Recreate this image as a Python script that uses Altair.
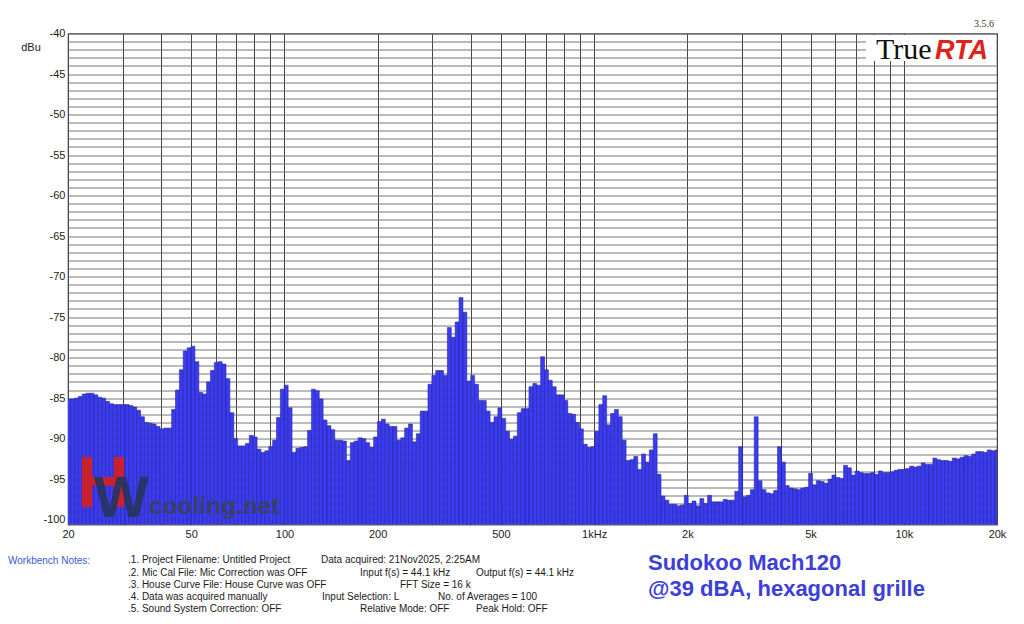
import altair as alt
import pandas as pd

# ---- 1/24-octave RTA levels (dBu), lowest band (~20 Hz) first, last band centred on 20 kHz
lv_20_63 = [-85.1, -85.1, -85.0, -84.8, -84.5, -84.4, -84.4, -84.6, -84.9, -85.0,
            -85.4, -85.7, -85.8, -85.8, -85.8, -85.8, -85.9, -86.1, -86.5, -87.3,
            -88.0, -88.1, -88.2, -88.5, -88.8, -88.7, -88.7, -86.4, -84.0, -81.5,
            -79.2, -78.8, -78.6, -80.5, -84.3, -84.5, -83.0, -81.6, -80.6, -80.5]
lv_63_200 = [-80.8, -82.6, -86.8, -90.0, -90.9, -90.9, -90.6, -89.6, -89.8, -91.3,
             -91.7, -91.5, -91.0, -90.2, -87.4, -83.9, -83.4, -86.2, -91.7, -91.2,
             -91.1, -91.0, -89.0, -83.9, -84.1, -85.1, -87.7, -88.4, -88.9, -90.2,
             -90.2, -90.3, -92.7, -90.5, -90.3, -89.9, -90.0, -90.5, -91.1, -89.8]
lv_200_630 = [-87.9, -87.6, -88.2, -88.5, -88.5, -90.2, -89.9, -88.7, -88.2, -90.4,
              -89.4, -86.6, -86.6, -83.3, -82.2, -81.6, -81.6, -82.2, -76.3, -77.5,
              -75.6, -72.6, -74.4, -82.9, -82.2, -83.3, -85.3, -85.3, -86.6, -88.0,
              -87.3, -86.2, -87.5, -89.1, -90.1, -89.7, -86.8, -86.3, -86.3, -83.6]
lv_630_2k = [-83.2, -83.4, -79.9, -81.5, -82.8, -83.6, -84.6, -84.6, -85.3, -86.9,
             -87.0, -88.0, -88.8, -90.7, -91.1, -91.0, -89.1, -85.8, -84.7, -88.3,
             -86.9, -86.4, -87.3, -90.2, -92.7, -92.6, -92.2, -93.8, -91.9, -92.9,
             -91.4, -89.4, -94.4, -97.1, -97.6, -98.1, -98.1, -98.3, -98.2, -97.0]
lv_2k_6k = [-98.0, -97.7, -98.3, -97.4, -98.0, -97.0, -97.8, -97.8, -97.8, -97.5,
            -97.6, -97.6, -96.5, -91.0, -97.2, -97.0, -96.3, -87.3, -95.2, -96.3,
            -96.7, -96.8, -96.4, -91.0, -92.9, -95.8, -96.1, -96.2, -96.3, -96.1,
            -96.0, -94.3, -95.7, -95.2, -95.3, -95.5, -95.0, -94.5, -94.8, -94.9]
lv_6k_20k = [-93.3, -93.6, -94.5, -94.0, -94.2, -94.3, -94.3, -94.2, -94.4, -94.0,
             -94.2, -94.2, -94.1, -93.9, -93.8, -93.8, -93.7, -93.4, -93.5, -93.4,
             -93.0, -93.2, -93.2, -92.4, -92.6, -92.7, -92.7, -92.8, -92.4, -92.5,
             -92.3, -92.1, -92.2, -91.9, -91.6, -91.6, -91.7, -91.4, -91.5, -91.4]

levels = lv_20_63 + lv_63_200 + lv_200_630 + lv_630_2k + lv_2k_6k + lv_6k_20k

x_grid = [20, 30, 40, 50, 60, 70, 80, 90, 100, 200, 300, 400, 500, 600, 700, 800, 900,
          1000, 2000, 3000, 4000, 5000, 6000, 7000, 8000, 9000, 10000, 20000]
x_tick_text = {20: "20", 50: "50", 100: "100", 200: "200", 500: "500",
               1000: "1kHz", 2000: "2k", 5000: "5k", 10000: "10k", 20000: "20k"}
y_grid = list(range(-100, -39))

notes_col1 = [".1. Project Filename: Untitled Project",
              ".2. Mic Cal File: Mic Correction was OFF",
              ".3. House Curve File: House Curve was OFF",
              ".4. Data was acquired manually",
              ".5. Sound System Correction: OFF"]
notes_col2 = [("Data acquired: 21Nov2025, 2:25AM", 321, 0),
              ("Input f(s) = 44.1 kHz", 360, 1),
              ("Output f(s) = 44.1 kHz", 476, 1),
              ("FFT Size = 16 k", 400, 2),
              ("Input Selection: L", 322, 3),
              ("No. of Averages = 100", 438, 3),
              ("Relative Mode:  OFF", 360, 4),
              ("Peak Hold: OFF", 476, 4)]

# ---- band table (1/24-octave bands counted down from 20 kHz)
n = len(levels)
rows = []
for j, v in enumerate(levels):
    fc = 20000.0 * 2 ** ((j - (n - 1)) / 24)
    rows.append({"lo": fc * 2 ** (-1 / 48), "hi": fc * 2 ** (1 / 48), "db": v})
df = pd.DataFrame(rows)

W, H = 929, 491
Y_MIN = -100.6
OX, OY = 68, 33.5          # image position of the plot origin
SANS = "Liberation Sans, Arial, sans-serif"
SERIF = "Liberation Serif, Times New Roman, serif"

label_expr = " : ".join(f"datum.value == {k} ? '{v}'" for k, v in x_tick_text.items()) + " : ''"

xscale = alt.Scale(type="log", domain=[20, 20000], nice=False)
yscale = alt.Scale(domain=[Y_MIN, -40], nice=False, zero=False)

bars = alt.Chart(df).mark_bar(
    clip=True, fill="#3b3bf0", stroke="#1f1f98", strokeWidth=0.55
).encode(
    x=alt.X("lo:Q", scale=xscale,
            axis=alt.Axis(values=x_grid, labelExpr=label_expr, title=None, ticks=False,
                          domain=False, grid=True, gridColor="#454545", gridWidth=1,
                          labelOverlap=False, labelFlush=False, labelPadding=4,
                          labelFont=SANS, labelFontSize=11, labelColor="#222")),
    x2="hi:Q",
    y=alt.Y("db:Q", scale=yscale,
            axis=alt.Axis(values=y_grid,
                          labelExpr="datum.value % 5 == 0 ? '' + datum.value : ''",
                          title=None, ticks=False, domain=False, grid=True,
                          gridColor="#666666", gridWidth=0.9, labelOverlap=False,
                          labelPadding=3, labelFont=SANS, labelFontSize=11,
                          labelColor="#222")),
    y2=alt.datum(Y_MIN),
)

one = pd.DataFrame({"k": [0]})


def txt(text, X, Y, **kw):
    """Annotation placed at image pixel (X, Y)."""
    style = dict(align="left", baseline="middle", font=SANS, fontSize=11, color="#222")
    style.update(kw)
    return alt.Chart(one).mark_text(**style).encode(
        x=alt.value(X - OX), y=alt.value(Y - OY), text=alt.value(text))


layers = [bars]

# white box behind the TrueRTA logo
layers.append(alt.Chart(one).mark_rect(fill="white").encode(
    x=alt.value(866 - OX), x2=alt.value(996 - OX),
    y=alt.value(35 - OY), y2=alt.value(61 - OY)))
layers.append(txt("True", 876, 59, baseline="alphabetic", font=SERIF, fontSize=30, color="#111"))
layers.append(txt("RTA", 935, 59, baseline="alphabetic", font=SANS, fontSize=27,
                  fontWeight="bold", fontStyle="italic", color="#e0221c"))
layers.append(txt("3.5.6", 984, 24, align="center", font=SERIF, fontSize=10, color="#333"))
layers.append(txt("dBu", 31, 48, align="center", fontSize=11))

# watermark
layers.append(txt("H", 77, 507, baseline="alphabetic", fontSize=72, fontWeight="bold",
                  color="#d42020", opacity=0.92))
layers.append(txt("W", 94, 517, baseline="alphabetic", fontSize=58, fontWeight="bold",
                  color="#27355f", opacity=0.92))
layers.append(txt("cooling.net", 149, 514, baseline="alphabetic", fontSize=24.5,
                  fontWeight="bold", color="#3a4262", opacity=0.95))

# workbench notes
line_y = [560, 572.5, 585, 597, 609]
NOTE = 10
layers.append(txt("Workbench Notes:", 8, 561, fontSize=NOTE, color="#3a5ad0"))
for i, t in enumerate(notes_col1):
    layers.append(txt(t, 128, line_y[i], fontSize=NOTE, color="#1a1a1a"))
for t, X, li in notes_col2:
    layers.append(txt(t, X, line_y[li], fontSize=NOTE, color="#1a1a1a"))

# title block
layers.append(txt("Sudokoo Mach120", 648, 563, fontSize=22, fontWeight="bold", color="#3d40d8"))
layers.append(txt("@39 dBA, hexagonal grille", 648, 589, fontSize=22, fontWeight="bold",
                  color="#3d40d8"))

chart = alt.layer(*layers).properties(
    width=W, height=H,
    padding={"left": 60, "top": 25.5, "right": 17, "bottom": 90},
    autosize=alt.AutoSizeParams(type="none"),
    background="white",
).configure_view(stroke="#555555", strokeWidth=1.2)

chart.save("out.html", embed_options={"renderer": "svg", "actions": False})
